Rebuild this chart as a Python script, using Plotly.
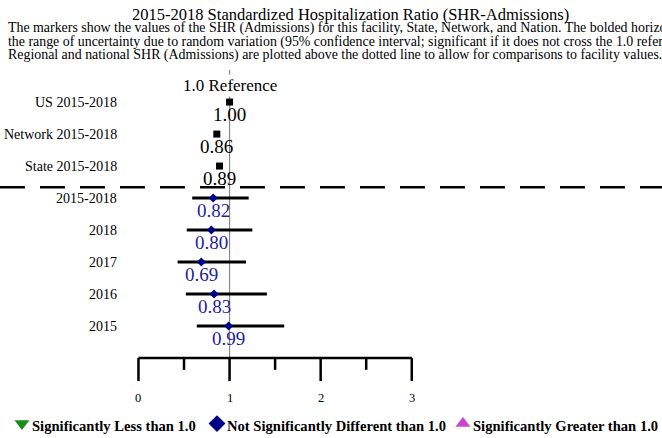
import plotly.graph_objects as go

# ---- data ----
nat_labels = ["US 2015-2018", "Network 2015-2018", "State 2015-2018"]
nat_values = [1.00, 0.86, 0.89]
nat_rows = [8, 7, 6]

fac_labels = ["2015-2018", "2018", "2017", "2016", "2015"]
fac_values = [0.82, 0.80, 0.69, 0.83, 0.99]
fac_lower = [0.59, 0.53, 0.43, 0.52, 0.64]
fac_upper = [1.21, 1.25, 1.18, 1.41, 1.60]
fac_rows = [5, 4, 3, 2, 1]

x_ticks = [0, 1, 2, 3]
x_minor = [0.5, 1.5, 2.5]

legend_names = ["Significantly Less than 1.0", "Not Significantly Different than 1.0", "Significantly Greater than 1.0"]
legend_symbols = ["triangle-down", "diamond", "triangle-up"]
legend_colors = ["#1a8c1a", "#00008b", "#cc44cc"]

FONT = "Liberation Serif"
NAVY = "#1f1f99"

fig = go.Figure()
shapes = []
annotations = []

# reference line
shapes.append(dict(type="line", xref="x", yref="y", x0=1, x1=1, y0=0, y1=9.0,
                   line=dict(color="#888888", width=1.2), layer="below"))
annotations.append(dict(x=1, y=8.53, xref="x", yref="y", text="1.0 Reference", showarrow=False,
                        font=dict(family=FONT, size=17, color="black"), bgcolor="white"))

# dashed separator
shapes.append(dict(type="line", xref="paper", yref="y", x0=0, x1=1, y0=5.34, y1=5.34,
                   line=dict(color="black", width=2.5, dash="25px,15px")))

# axis
shapes.append(dict(type="line", xref="x", yref="y", x0=x_ticks[0], x1=x_ticks[-1], y0=0, y1=0,
                   line=dict(color="black", width=2.5)))
for t in x_ticks:
    shapes.append(dict(type="line", xref="x", yref="y", x0=t, x1=t, y0=0, y1=-0.72,
                       line=dict(color="black", width=2.5)))
    annotations.append(dict(x=t, y=-1.25, xref="x", yref="y", text=str(t), showarrow=False,
                            font=dict(family=FONT, size=12.5, color="black")))
for t in x_minor:
    shapes.append(dict(type="line", xref="x", yref="y", x0=t, x1=t, y0=0, y1=-0.37,
                       line=dict(color="black", width=2.5)))

# national markers
fig.add_trace(go.Scatter(x=nat_values, y=nat_rows, mode="markers",
                         marker=dict(symbol="square", size=7, color="black"),
                         showlegend=False, hoverinfo="skip", cliponaxis=False))
for lab, v, r in zip(nat_labels, nat_values, nat_rows):
    annotations.append(dict(x=-0.21, y=r, xref="x", yref="y", text=lab, showarrow=False,
                            xanchor="right", font=dict(family=FONT, size=14, color="black")))
    annotations.append(dict(x=v, y=r, xref="x", yref="y", text=f"{v:.2f}", showarrow=False,
                            yshift=-12, font=dict(family=FONT, size=19, color="black")))

# facility CI bars and markers
for lab, v, lo, hi, r in zip(fac_labels, fac_values, fac_lower, fac_upper, fac_rows):
    fig.add_trace(go.Scatter(x=[lo, hi], y=[r, r], mode="lines",
                             line=dict(color="black", width=3),
                             showlegend=False, hoverinfo="skip"))
    annotations.append(dict(x=-0.21, y=r, xref="x", yref="y", text=lab, showarrow=False,
                            xanchor="right", font=dict(family=FONT, size=14, color="black")))
    annotations.append(dict(x=v, y=r, xref="x", yref="y", text=f"{v:.2f}", showarrow=False,
                            yshift=-12, font=dict(family=FONT, size=19, color=NAVY)))
fig.add_trace(go.Scatter(x=fac_values, y=fac_rows, mode="markers",
                         marker=dict(symbol="diamond", size=7, color="#00008b"),
                         showlegend=False, hoverinfo="skip"))

# manual legend
leg_x = [-1.279, 0.862, 3.562]
for name, sym, col, lx in zip(legend_names, legend_symbols, legend_colors, leg_x):
    fig.add_trace(go.Scatter(x=[lx], y=[-2.05], mode="markers",
                             marker=dict(symbol=sym, size=13, color=col),
                             showlegend=False, hoverinfo="skip", cliponaxis=False))
    annotations.append(dict(x=lx, y=-2.13, xref="x", yref="y", text="<b>" + name + "</b>",
                            showarrow=False, xanchor="left", xshift=8,
                            font=dict(family=FONT, size=14.6, color="black")))

# title and subtitle
annotations.append(dict(xref="paper", yref="y", x=350 / 662, y=(358 - 14) / 32,
                        text="2015-2018 Standardized Hospitalization Ratio (SHR-Admissions)",
                        showarrow=False, font=dict(family=FONT, size=16.5, color="black")))
sub_lines = [
    "The markers show the values of the SHR (Admissions) for this facility, State, Network, and Nation. The bolded horizontal lines represent",
    "the range of uncertainty due to random variation (95% confidence interval; significant if it does not cross the 1.0 reference line).",
    "Regional and national SHR (Admissions) are plotted above the dotted line to allow for comparisons to facility values.",
]
for i, line in enumerate(sub_lines):
    annotations.append(dict(xref="paper", yref="y", x=0.009, y=(358 - (28 + 13.5 * i)) / 32,
                            text=line, showarrow=False, xanchor="left",
                            font=dict(family=FONT, size=13.9, color="black")))

fig.update_layout(
    width=662, height=438,
    margin=dict(l=0, r=0, t=0, b=0),
    paper_bgcolor="white", plot_bgcolor="white",
    xaxis=dict(range=[-1.52, 5.747], visible=False, fixedrange=True),
    yaxis=dict(range=[-2.5, 11.19], visible=False, fixedrange=True),
    shapes=shapes, annotations=annotations,
    showlegend=False,
)

fig.write_html("out.html", config={"displayModeBar": False},
               post_script="document.body.style.margin='0';")
